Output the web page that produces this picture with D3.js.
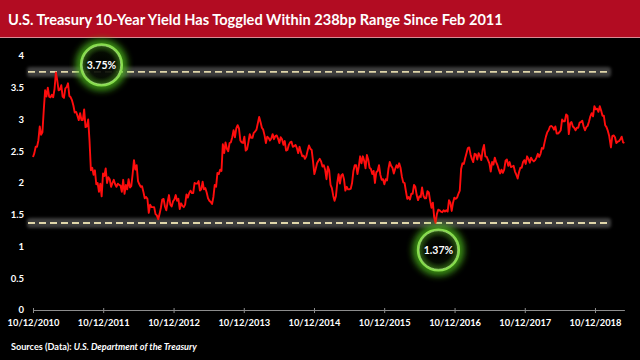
<!DOCTYPE html>
<html><head><meta charset="utf-8">
<script src="https://cdn.jsdelivr.net/npm/d3@7"></script>
<style>html,body{margin:0;padding:0;background:#000;} svg{display:block;}</style>
</head><body>
<svg id="chart" width="640" height="360"></svg>
<script>
// ---------- data ----------
const titleText = "U.S. Treasury 10-Year Yield Has Toggled Within 238bp Range Since Feb 2011";
const sourceLabel = "Sources (Data): ";
const sourceName = "U.S. Department of the Treasury";
const yTicks = [0, 0.5, 1, 1.5, 2, 2.5, 3, 3.5, 4];
const xTickDates = ["2010-10-12","2011-10-12","2012-10-12","2013-10-12","2014-10-12","2015-10-12","2016-10-12","2017-10-12","2018-10-12"];

// weekly 10-year yield samples (%), each array starts at the date in yieldStartDates
const yieldStartDates = ["2010-10-12","2011-01-04","2012-01-03","2013-01-01","2014-01-07","2015-01-06","2016-01-05","2017-01-03","2018-01-02","2019-01-03"];
const y2010 = [2.41,2.47,2.57,2.57,2.67,2.89,2.76,2.80,3.15,3.46,3.36,3.50];
const y2011 = [3.36,3.35,3.39,3.35, 3.48,3.74,3.62,3.46, 3.47,3.54,3.36,3.34,3.49, 3.51,3.57,3.37,3.35, 3.30,3.22,3.11,3.12,3.06, 2.99,3.10,2.99,2.99, 3.16,2.88,2.89,3.00, 2.66,2.20,2.24,2.13,2.20, 1.98,2.00,1.86,1.99, 1.79,2.15,2.11,2.23, 2.00,2.09,2.06,1.94,2.00, 2.05,1.98,1.94,1.99];
const y2012 = [1.97,1.96,1.86,2.05,1.83, 1.97,1.90,2.06,1.93, 1.95,2.14,2.36,2.21, 2.28,2.03,1.98,1.94, 1.95,1.86,1.76,1.78,1.75, 1.53,1.66,1.62,1.62, 1.62,1.51,1.49,1.43,1.51, 1.61,1.74,1.75,1.63, 1.57,1.70,1.81,1.66, 1.63,1.71,1.74,1.81,1.72, 1.75,1.59,1.68,1.64, 1.62,1.66,1.82,1.77];
const y2013 = [1.84,1.88,1.84,1.84,2.00, 1.99,1.99,2.03,1.88, 1.90,2.02,1.90,1.92, 1.85,1.76,1.72,1.70,1.67, 1.78,1.97,1.94,2.16, 2.14,2.21,2.19,2.61, 2.47,2.64,2.54,2.50,2.63, 2.64,2.72,2.83,2.72, 2.86,2.91,2.86,2.67, 2.64,2.63,2.73,2.51,2.53, 2.64,2.77,2.71,2.71, 2.79,2.81,2.84,2.94,3.04];
const y2014 = [2.96,2.87,2.84,2.75, 2.63,2.73,2.71,2.67, 2.70,2.77,2.69,2.74, 2.75,2.70,2.63,2.72,2.69, 2.60,2.66,2.51,2.52, 2.60,2.64,2.65,2.57, 2.58,2.60,2.55,2.47,2.57, 2.49,2.42,2.43,2.38, 2.42,2.51,2.59,2.54,2.52, 2.34,2.14,2.22,2.31, 2.35,2.38,2.34,2.26, 2.28,2.21,2.06,2.26,2.20];
const y2015 = [1.97,1.92,1.80,1.72, 1.79,2.00,2.14,1.99, 2.12,2.14,2.06,1.88,1.94, 1.90,1.90,1.91,2.00, 2.19,2.28,2.28,2.14, 2.26,2.42,2.31,2.42,2.35, 2.23,2.44,2.37,2.24, 2.22,2.14,2.19,2.00, 2.17,2.19,2.28,2.13,2.05, 2.06,1.98,2.06,2.04, 2.22,2.33,2.27,2.24, 2.15,2.22,2.28,2.24,2.31];
const y2016 = [2.24,2.10,2.01,2.00, 1.87,1.75,1.78,1.74, 1.83,1.83,1.97,1.94,1.81, 1.73,1.79,1.78,1.93, 1.80,1.76,1.76,1.87,1.85, 1.72,1.61,1.69,1.46, 1.37,1.51,1.58,1.57, 1.55,1.54,1.57,1.55,1.57, 1.55,1.73,1.69,1.56, 1.69,1.77,1.75,1.77, 1.83,1.88,2.22,2.31,2.30, 2.39,2.47,2.55,2.56];
const y2017 = [2.45,2.38,2.33,2.46,2.45, 2.37,2.47,2.43,2.36, 2.52,2.60,2.42,2.41, 2.36,2.31,2.18,2.33, 2.29,2.40,2.33,2.28,2.21, 2.15,2.21,2.16,2.21, 2.35,2.37,2.27,2.33, 2.25,2.26,2.27,2.18,2.13, 2.07,2.17,2.24,2.24, 2.33,2.36,2.30,2.42,2.38, 2.32,2.40,2.36,2.34, 2.36,2.40,2.46,2.41];
const y2018 = [2.46,2.55,2.54,2.64,2.73, 2.80,2.83,2.89,2.90, 2.88,2.84,2.89,2.78, 2.78,2.80,2.83,3.00, 2.97,2.97,3.08,3.06,2.77, 2.94,2.96,2.89,2.87, 2.83,2.87,2.87,2.95,2.96, 2.98,2.89,2.83,2.88, 2.90,2.97,3.05,3.10, 3.05,3.21,3.16,3.17,3.12, 3.21,3.14,3.06,3.06, 2.91,2.88,2.82,2.74];
const y2019 = [2.56,2.74,2.75,2.72,2.63,2.65,2.66,2.69,2.73,2.64,2.63];
const yieldBlocks = [y2010,y2011,y2012,y2013,y2014,y2015,y2016,y2017,y2018,y2019];

const rangeLevels = [3.75, 1.37];
const calloutDates = ["2011-10-03", "2016-07-20"];
const calloutValues = [3.86, 0.945];
const calloutLabels = ["3.75%", "1.37%"];

// ---------- build series ----------
const parse = d3.utcParse("%Y-%m-%d");
const series = [];
yieldBlocks.forEach((arr, b) => {
  const start = parse(yieldStartDates[b]);
  arr.forEach((v, i) => series.push({ date: d3.utcDay.offset(start, 7 * i), value: v }));
});

// ---------- layout ----------
const W = 640, H = 360;
const svg = d3.select("#chart");
const font = "Lato, 'Open Sans', sans-serif";

const x = d3.scaleUtc()
  .domain([parse("2010-10-12"), series[series.length - 1].date])
  .range([33, 624.4]);
const y = d3.scaleLinear().domain([0, 4]).range([310, 56]);

function fit(sel, width) {
  const node = sel.node();
  const fs = parseFloat(sel.attr("font-size"));
  const w = node.getComputedTextLength();
  sel.attr("font-size", (fs * width / w).toFixed(2));
}

const defs = svg.append("defs");
const blur2 = defs.append("filter").attr("id", "blur2").attr("filterUnits", "userSpaceOnUse")
  .attr("x", 0).attr("y", 0).attr("width", W).attr("height", H);
blur2.append("feGaussianBlur").attr("stdDeviation", 1.8);
const glow = defs.append("filter").attr("id", "glow").attr("filterUnits", "userSpaceOnUse")
  .attr("x", 0).attr("y", 0).attr("width", W).attr("height", H);
glow.append("feGaussianBlur").attr("stdDeviation", 3.5);
const rg = defs.append("radialGradient").attr("id", "ringFill");
rg.append("stop").attr("offset", "0%").attr("stop-color", "#000");
rg.append("stop").attr("offset", "65%").attr("stop-color", "#050b02");
rg.append("stop").attr("offset", "100%").attr("stop-color", "#2c5a12");

// background
svg.append("rect").attr("width", W).attr("height", H).attr("fill", "#000");

// title bar
svg.append("rect").attr("x", 0).attr("y", 0).attr("width", W).attr("height", 37).attr("fill", "#b20c22");
svg.append("line").attr("x1", 0).attr("x2", W).attr("y1", 37.5).attr("y2", 37.5).attr("stroke", "#d98a95").attr("stroke-width", 1);
const title = svg.append("text").attr("x", 8).attr("y", 25).attr("fill", "#fff")
  .attr("font-family", font).attr("font-weight", "bold").attr("font-size", 16).text(titleText);
fit(title, 495);

// y axis labels
svg.append("g").selectAll("text").data(yTicks).join("text")
  .attr("x", 24).attr("y", d => y(d)).attr("dy", "0.35em")
  .attr("text-anchor", "end").attr("fill", "#fff")
  .attr("font-family", font).attr("font-weight", "bold").attr("font-size", 9.5)
  .text(d => d3.format("")(d));

// x axis
const xAxis = d3.axisBottom(x)
  .tickValues(xTickDates.map(parse))
  .tickFormat(d3.utcFormat("%m/%d/%Y"))
  .tickSizeInner(3).tickSizeOuter(0);
const gx = svg.append("g").attr("transform", "translate(0,310)").call(xAxis);
gx.select(".domain").attr("stroke", "#8c8c8c").attr("stroke-width", 1);
gx.selectAll(".tick line").attr("stroke", "#8c8c8c").attr("y1", -2).attr("y2", 3);
gx.selectAll(".tick text").attr("fill", "#fff").attr("font-family", font)
  .attr("font-weight", "bold").attr("font-size", 9.3).attr("y", 9).attr("dy", "0.71em");

// range lines
const lineX1 = 28, lineX2 = 610;
rangeLevels.forEach(v => {
  svg.append("rect").attr("x", lineX1 - 1).attr("width", lineX2 - lineX1 + 2)
    .attr("y", y(v) - 5).attr("height", 10).attr("rx", 3)
    .attr("fill", "#7a7a7a").attr("opacity", 0.5).attr("filter", "url(#blur2)");
  svg.append("line").attr("x1", lineX1).attr("x2", lineX2).attr("y1", y(v)).attr("y2", y(v))
    .attr("stroke", "#e0d6aa").attr("stroke-width", 1.8).attr("stroke-dasharray", "7,4");
});

// yield line
svg.append("path").datum(series)
  .attr("fill", "none").attr("stroke", "#ff0d0d").attr("stroke-width", 1.9)
  .attr("stroke-linejoin", "round")
  .attr("d", d3.line().x(d => x(d.date)).y(d => y(d.value)));

// callouts
calloutLabels.forEach((lab, i) => {
  const cx = x(parse(calloutDates[i])), cy = y(calloutValues[i]);
  const g = svg.append("g");
  g.append("circle").attr("cx", cx).attr("cy", cy).attr("r", 21)
    .attr("fill", "none").attr("stroke", "#4fc21e").attr("stroke-width", 9).attr("opacity", 0.8).attr("filter", "url(#glow)");
  g.append("circle").attr("cx", cx).attr("cy", cy).attr("r", 19.5).attr("fill", "url(#ringFill)").attr("opacity", 0.9);
  g.append("circle").attr("cx", cx).attr("cy", cy).attr("r", 20.5)
    .attr("fill", "none").attr("stroke", "#86dc4c").attr("stroke-width", 2.2);
  g.append("circle").attr("cx", cx).attr("cy", cy).attr("r", 19.3)
    .attr("fill", "none").attr("stroke", "#c4f59a").attr("stroke-width", 0.8).attr("opacity", 0.7);
  g.append("text").attr("x", cx).attr("y", cy).attr("dy", "0.36em").attr("text-anchor", "middle")
    .attr("fill", "#fff").attr("font-family", font).attr("font-weight", "bold").attr("font-size", 10.5).text(lab);
});

// source
const src = svg.append("text").attr("x", 11).attr("y", 350).attr("fill", "#fff")
  .attr("font-family", font).attr("font-weight", "bold").attr("font-size", 10);
src.append("tspan").text(sourceLabel);
src.append("tspan").attr("font-style", "italic").text(sourceName);
fit(src, 186);
</script>
</body></html>
